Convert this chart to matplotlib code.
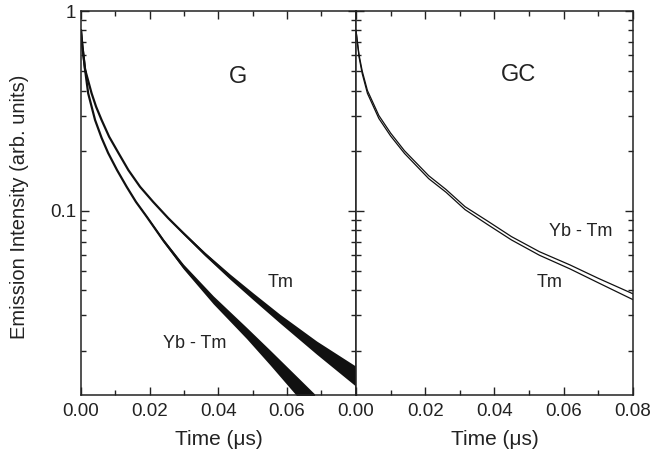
import numpy as np
import matplotlib
matplotlib.use("Agg")
import matplotlib.pyplot as plt
from matplotlib.ticker import LogLocator, FixedLocator, FixedFormatter, MultipleLocator, NullFormatter

plt.rcParams['font.family'] = ['Liberation Sans', 'DejaVu Sans']

## data
# G panel, Tm
g_tm_t = [0.0, 0.0004, 0.0012, 0.0031, 0.0044, 0.006, 0.0082, 0.0109, 0.0138, 0.0172, 0.021,
          0.0254, 0.0298, 0.036, 0.0433, 0.050, 0.0579, 0.0686, 0.080]
g_tm_i = [0.80, 0.67, 0.51, 0.387, 0.332, 0.285, 0.235, 0.195, 0.160, 0.132, 0.111,
          0.092, 0.0774, 0.061, 0.047, 0.0375, 0.0289, 0.0207, 0.0149]
# noise half width (decades)
g_tm_spread = [0, 0, 0, 0, 0, 0, 0, 0.001, 0.001, 0.002, 0.002,
               0.003, 0.006, 0.009, 0.013, 0.017, 0.022, 0.033, 0.05]

# G panel, Yb - Tm
g_yb_t = [0.0, 0.0004, 0.0012, 0.0021, 0.0041, 0.0060, 0.0079, 0.0105, 0.0133, 0.016, 0.0191,
          0.024, 0.0298, 0.0385, 0.0482, 0.055, 0.0637, 0.068]
g_yb_i = [0.80, 0.67, 0.507, 0.387, 0.285, 0.232, 0.195, 0.16, 0.132, 0.111, 0.0937,
          0.071, 0.0527, 0.0359, 0.0245, 0.0185, 0.0128, 0.0107]
g_yb_spread = [0, 0, 0, 0, 0, 0, 0, 0.001, 0.002, 0.003, 0.005,
               0.008, 0.012, 0.02, 0.028, 0.037, 0.05, 0.055]

# GC panel
gc_t = [0.0, 0.0004, 0.0009, 0.0018, 0.0033, 0.0066, 0.010, 0.014, 0.021, 0.026, 0.0315,
        0.038, 0.0449, 0.053, 0.0618, 0.070, 0.080]
gc_yb_i = [0.80, 0.70, 0.60, 0.50, 0.40, 0.30, 0.245, 0.20, 0.15, 0.128, 0.105,
           0.089, 0.0744, 0.0625, 0.0537, 0.046, 0.0385]
gc_tm_i = [0.80, 0.69, 0.585, 0.485, 0.387, 0.29, 0.237, 0.194, 0.145, 0.124, 0.1015,
           0.0855, 0.0716, 0.060, 0.0513, 0.0437, 0.036]

xticks = [0.0, 0.02, 0.04, 0.06, 0.08]
xlabels_left = ['0.00', '0.02', '0.04', '0.06', '']
xlabels_right = ['0.00', '0.02', '0.04', '0.06', '0.08']

txt = '#222222'

fig = plt.figure(figsize=(6.72, 4.51), dpi=100)
ax1 = fig.add_axes([0.1205, 0.1242, 0.409, 0.8514])
ax2 = fig.add_axes([0.5298, 0.1242, 0.412, 0.8514], sharey=ax1)


def band(ax, t, i, s):
    t = np.array(t)
    i = np.array(i)
    s = np.array(s)
    ax.fill_between(t, i * 10 ** (-s), i * 10 ** s, color='#111111', lw=0)
    ax.plot(t, i, color='#111111', lw=1.6)


band(ax1, g_tm_t, g_tm_i, g_tm_spread)
band(ax1, g_yb_t, g_yb_i, g_yb_spread)

ax2.plot(gc_t, gc_yb_i, color='#111111', lw=0.9)
ax2.plot(gc_t, gc_tm_i, color='#111111', lw=0.9)

ax1.text(0.0457, 0.47, 'G', fontsize=17, color=txt, ha='center', va='center')
ax1.text(0.058, 0.0437, 'Tm', fontsize=13, color=txt, ha='center', va='center')
ax1.text(0.033, 0.0218, 'Yb - Tm', fontsize=13, color=txt, ha='center', va='center')
ax2.text(0.047, 0.48, 'GC', fontsize=17, color=txt, ha='center', va='center')
ax2.text(0.065, 0.0786, 'Yb - Tm', fontsize=13, color=txt, ha='center', va='center')
ax2.text(0.0558, 0.0437, 'Tm', fontsize=13, color=txt, ha='center', va='center')

for ax, labs in [(ax1, xlabels_left), (ax2, xlabels_right)]:
    ax.set_yscale('log')
    ax.set_xlim(0, 0.08)
    ax.set_ylim(0.012, 1)
    ax.xaxis.set_major_locator(FixedLocator(xticks))
    ax.xaxis.set_major_formatter(FixedFormatter(labs))
    ax.xaxis.set_minor_locator(MultipleLocator(0.01))
    ax.yaxis.set_minor_locator(LogLocator(base=10, subs=np.arange(2, 10)))
    ax.yaxis.set_minor_formatter(NullFormatter())
    ax.tick_params(which='both', direction='in', top=True, right=True, width=1, color='#222222',
                   labelsize=13.5, labelcolor=txt)
    ax.tick_params(which='major', length=6)
    ax.tick_params(axis='x', which='major', pad=6)
    ax.tick_params(which='minor', length=3.5)
    for sp in ax.spines.values():
        sp.set_linewidth(1.1)
        sp.set_color('#222222')
    ax.set_xlabel('Time (\u03bcs)', fontsize=15, color=txt, labelpad=7)

ax1.yaxis.set_major_locator(FixedLocator([0.01, 0.1, 1]))
ax1.yaxis.set_major_formatter(FixedFormatter(['0.01', '0.1', '1']))
ax1.set_ylabel('Emission Intensity (arb. units)', fontsize=14.5, color=txt)
ax1.yaxis.set_label_coords(-0.19, 0.49)
ax2.tick_params(labelleft=False)

fig.savefig('out.png', dpi=100)
